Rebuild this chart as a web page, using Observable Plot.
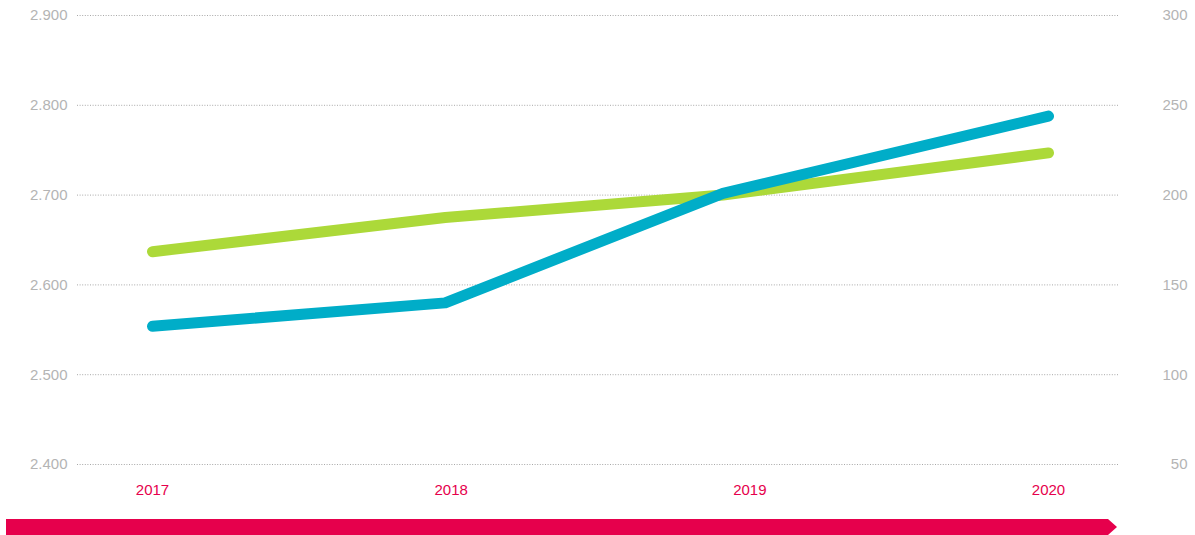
<!DOCTYPE html>
<html><head><meta charset="utf-8">
<script src="https://cdn.jsdelivr.net/npm/d3@7"></script>
<script src="https://cdn.jsdelivr.net/npm/@observablehq/plot@0.6"></script>
<style>body{margin:0;background:#fff;} svg{display:block;}</style>
</head><body><div id="chart"></div>
<script>
const years = [2017, 2018, 2019, 2020];
// horizontal placement of each data point (in year units)
const pointX = [2017, 2017.98, 2018.91, 2020];
const greenLeft = [2637, 2675, 2700, 2747];   // left axis units
const blueRight = [127, 140, 201, 244];       // right axis units
const leftTicks = [2400, 2500, 2600, 2700, 2800, 2900];
const rightTicks = [50, 100, 150, 200, 250, 300];

// right axis maps onto left: 50 -> 2400, 300 -> 2900
const toLeft = r => 2400 + (r - 50) * 2;
const toRight = l => (l - 2400) / 2 + 50;

const green = years.map((y, i) => ({x: pointX[i], v: greenLeft[i]}));
const blue = years.map((y, i) => ({x: pointX[i], v: toLeft(blueRight[i])}));

const fmt = d => d3.format(",")(d).replace(/,/g, ".");
const font = "Liberation Sans, Arial, sans-serif";

const chart = Plot.plot({
  width: 1195, height: 535,
  marginLeft: 77, marginRight: 77, marginTop: 15, marginBottom: 71,
  style: {fontFamily: font, fontSize: "15px", background: "#fff"},
  x: {type: "linear", domain: [2017, 2020], range: [152, 1048]},
  y: {domain: [2400, 2900]},
  marks: [
    Plot.gridY(leftTicks, {stroke: "#a8a8a8", strokeOpacity: 1, strokeDasharray: "1,1.6", strokeWidth: 1}),
    Plot.axisY(leftTicks, {anchor: "left", tickSize: 0, tickPadding: 10, tickFormat: fmt, fill: "#b4b4b4", label: null, fontSize: 15}),
    Plot.axisY(rightTicks.map(toLeft), {anchor: "right", tickSize: 0, tickPadding: 69, textAnchor: "end", tickFormat: d => String(toRight(d)), fill: "#b4b4b4", label: null, fontSize: 15}),
    Plot.axisX(years, {tickSize: 0, tickPadding: 20, tickFormat: d => String(d), fill: "#e6004c", label: null, fontSize: 15}),
    Plot.line(green, {x: "x", y: "v", stroke: "#acd939", strokeWidth: 11, strokeLinecap: "round", strokeLinejoin: "round"}),
    Plot.line(blue, {x: "x", y: "v", stroke: "#00adc8", strokeWidth: 11, strokeLinecap: "round", strokeLinejoin: "round"})
  ]
});
document.getElementById("chart").appendChild(chart);

// decorative arrow bar at the bottom
d3.select(chart).append("polygon")
  .attr("points", "6,519 1108,519 1117,527 1108,535 6,535")
  .attr("fill", "#e6004c");
</script>
</body></html>
